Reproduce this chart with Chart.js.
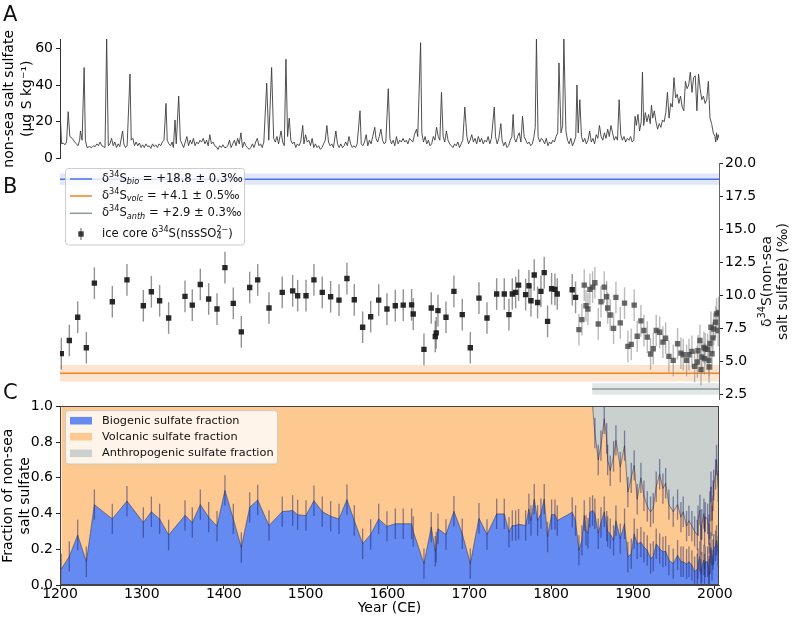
<!DOCTYPE html>
<html><head><meta charset="utf-8">
<script src="https://cdn.jsdelivr.net/npm/chart.js@4.4.1/dist/chart.umd.min.js"></script>
<style>
html,body{margin:0;padding:0;background:#fff;}
#wrap{position:relative;width:794px;height:619px;overflow:hidden;font-family:"DejaVu Sans",sans-serif;}
canvas{position:absolute;left:0;}
.lbl{position:absolute;font-size:21px;color:#111;line-height:1;font-family:"DejaVu Sans",sans-serif;}
</style></head><body>
<div id="wrap">
<canvas id="cA" width="794" height="170" style="top:0px"></canvas>
<canvas id="cB" width="794" height="260" style="top:150px"></canvas>
<canvas id="cC" width="794" height="224" style="top:395px"></canvas>
<div class="lbl" style="left:3px;top:4px">A</div>
<div class="lbl" style="left:3px;top:176px">B</div>
<div class="lbl" style="left:3px;top:382px">C</div>
</div>
<script>
// ---------------- DATA ----------------
const X_MIN = 1200, X_MAX = 2005;
const xTicks = [1200,1300,1400,1500,1600,1700,1800,1900,2000];
const aTicks = [0,20,40,60];
const bTicks = [2.5,5,7.5,10,12.5,15,17.5,20];
const cTicks = [0,0.2,0.4,0.6,0.8,1.0];

// Panel A: non-sea salt sulfate (µg S kg-1)
const aYears = [
1200,1202,1204,1206,1208,1210,1212,1215,1218,1220,
1222,1224,1225,1227,1229.5,1231,1233,1236,1239,1241,
1243,1245,1247,1249,1251,1253,1255,1257,1259,1261,
1263,1265,1267,1269,1271,1273,1276.5,1278,1280,1282,
1285.5,1287,1289,1291,1293,1295,1297,1299,1301,1303,
1305,1307,1309,1311,1313,1315,1317,1319,1321,1323,
1325,1327,1329.5,1331,1333,1335,1337,1338.5,1340.5,1342,
1345,1347,1349,1351,1353,1355,1357,1359,1361,1363,
1365,1367,1369,1371,1373,1375,1377,1379,1381,1383,
1385,1387,1389,1391,1393,1395,1397,1399,1401,1403,
1405,1407,1409,1411,1413,1415,1417,1419,1421,1423,
1425,1427,1429,1431,1433,1435,1437,1439,1441,1443,
1445,1447,1449,1452.5,1455,1458.5,1461,1463,1465,1467,
1470,1472,1474,1476,1478,1480,1482,1484,1486,1488,
1490,1492,1494,1496.5,1498,1500,1502,1504,1506,1508,
1510,1512,1514,1516,1518,1520,1522,1524,1526,1528,
1530,1532,1534,1537,1539,1541,1543,1545,1547,1549,
1551,1553,1555,1557,1559,1561,1563,1566.5,1568,1570,
1572,1574,1576,1578,1580,1582,1584.5,1586,1588,1590,
1592,1594,1596,1598,1601,1603,1605,1607,1609,1611,
1613,1615,1617,1619,1621,1623,1625,1627,1629,1631,
1633,1635.5,1637,1640.5,1642,1644,1646,1648,1650,1652,
1654,1656,1658,1660,1662,1664,1666,1668,1670,1672,
1674,1676,1678,1680,1682,1684,1686,1688,1690,1692,
1694.5,1697,1699,1701,1703,1705,1707,1709,1711,1713,
1715,1717,1719,1721,1723,1725,1727,1730.5,1732,1734,
1736,1738.5,1740,1742,1744,1746,1748,1750,1752,1753.5,
1755,1757,1759,1761,1763,1765,1767,1769,1771,1773,
1775,1777,1779,1780.5,1782,1784,1786,1788,1790,1792,
1794,1796,1798,1800,1802,1804,1806,1808,1809.5,1812,
1814,1815.5,1818,1820,1822,1824,1826,1828,1830,1831.5,
1833,1835,1837,1839,1841,1843,1845,1847,1849,1851,
1853,1855,1857,1859,1861,1863,1865,1867,1869,1871,
1873,1875,1877,1879,1881,1883,1885,1887,1889,1891,
1893,1895,1897,1899,1901,1902.5,1904,1906,1908,1910,
1911.5,1913,1915,1917,1919,1921,1922.5,1924,1926,1928,
1930,1932,1934,1936,1938,1940,1942,1944,1946,1948,
1950,1952,1954,1956,1958,1960,1962,1964,1966,1968,
1970,1972,1974,1976,1978,1980,1982,1984,1986,1988,
1990,1992,1994,1996,1998,2000,2001,2002,2003,2004,
2005];
const aVals = [
26,8,8.5,7.5,9,25.5,12,11,9,8,
7,10,15,10,49.5,10,6,6.5,6,7,
6.5,8,7,9,7,6.5,6,65,7,8,
11,7,9,6,8,6.5,15,8,6,7,
46,10,11,7,9,7,8.5,6,7.5,6,
8,6.5,7,5.5,8,6.5,7.5,6,8,7,
9,10,30,10,8,7,9,6,21,8,
34,10,8,6,9,12,7,10,8,11,
7,9,8,10,9,11,8,10,7,13,
8,9,7,6.5,5,7,6,7.5,6,6,
7,10,6,8,10,7,11,8,14,6,
9,7,6,5,6,8,6,9,11,7,
8,6,9,41,10,49.5,11,9,12,8,
15,9,7,54,12,22,10,8,9,6,
8,7,9,18,8,13,9,10,7,11,
6,8,6,7,5,6,8,10,18,9,
7,8,6,15,8,6,8,6,7,9,
7,12,8,6,7,6,8,26,8,7,
9,13,7,10,8,12,17,11,9,12,
16,10,8,9,38,11,8,10,7,12,
8,10,9,11,9,10,8,11,10,9,
13,16,12,63,14,9,12,8,10,7,
8,12,10,17,12,10,36,12,9,15,
10,8,7,6,8,7,9,6,8,10,
28,12,8,10,13,9,11,8,12,9,
11,8,10,9,12,8,11,28,12,8,
11,19,10,7,9,6,7,10,12,24,
11,9,12,14,9,23,12,10,8,9,
7,8,12,17,65,12,9,11,10,8,
11,7,9,8,10,9,12,14,52,14,
18,65,15,10,8,11,7,9,12,40,
14,32,12,9,11,8,10,15,9,11,
8,13,11,18,12,10,14,11,16,12,
18,14,10,12,10,32,13,10,12,9,
11,10,12,9,10,23,18,24,15,20,
47,18,25,20,24,19,29,22,26,20,
16,19,17,21,20,25,36,22,30,28,
44,33,35,30,34,28,26,42,38,40,
47,36,44,45,26,46,38,32,34,30,
32,42,22,19,14,12,9,14,10,13,
11];

// Panels B and C: ice core samples
const bcYears = [
1201.6,1211.4,1221.6,1232.2,1242.0,1263.9,1281.8,1301.8,1311.6,1321.7,
1332.7,1352.7,1361.6,1371.4,1381.6,1391.8,1401.5,1411.7,1421.5,1431.7,
1441.5,1455.3,1471.5,1484.2,1490.3,1500.5,1510.2,1520.4,1530.6,1540.8,
1550.5,1559.5,1569.7,1579.5,1589.3,1599.4,1609.6,1619.3,1629.5,1631.5,
1644.6,1653.5,1658.4,1659.6,1661.7,1671.5,1681.2,1691.4,1701.2,1711.8,
1721.6,1733.4,1742.7,1748.4,1752.5,1756.6,1760.2,1768.8,1772.8,1775.3,
1779.3,1783.4,1787.5,1791.5,1795.6,1800.5,1804.6,1807.4,1825.7,1829.8,
1833.9,1837.5,1840.4,1842.5,1844.9,1847.3,1850.6,1853.4,1857.5,1860.8,
1864.8,1867.8,1869.0,1872.1,1876.2,1879.1,1884.4,1889.6,1893.7,1897.8,
1901.4,1905.1,1909.6,1913.3,1917.4,1921.4,1924.7,1928.3,1932.5,1936.5,
1939.8,1943.8,1949.1,1954.4,1958.5,1961.3,1965.4,1968.3,1971.9,1975.2,
1978.5,1979.3,1981.7,1983.0,1984.0,1986.6,1987.4,1988.2,1991.1,1992.7,
1992.9,1993.9,1995.2,1996.5,1997.7,1998.5,2000.8,2002.0,2004.0,2004.5];
const deltaB = [
5.58,6.58,8.34,6.03,10.92,9.51,11.17,9.21,10.27,9.59,
8.28,9.92,9.26,10.82,9.72,8.96,12.1,9.39,7.23,10.59,
11.17,9.04,10.22,10.34,9.97,9.97,11.17,10.22,9.89,9.64,
11.27,9.66,7.58,8.38,9.64,8.96,9.21,9.26,9.28,8.58,
5.9,9.04,6.88,7.15,8.84,8.34,10.3,8.54,6.03,9.79,
8.28,10.1,10.1,8.54,10.1,10.22,10.77,10.05,10.72,9.59,
11.54,9.46,10.3,11.72,8.03,10.5,10.45,10.1,10.42,9.84,
7.4,8.16,10.77,9.21,8.96,10.45,10.62,10.95,7.83,9.51,
10.62,9.89,9.04,8.51,7.5,9.84,7.91,9.41,6.13,6.28,
9.26,6.9,8.06,7.33,6.83,5.55,5.95,7.33,7.2,6.45,
6.75,5.37,5.07,6.33,5.62,5.5,5.07,5.5,5.75,4.62,
4.95,5.8,6.58,4.37,5.33,6.05,5.2,5.95,5.9,5.07,
4.57,6.35,7.58,5.57,6.78,7.45,7.96,8.58,7.33,8.7];
const errB = 1.2;
const bioFrac = [
0.09,0.16,0.28,0.13,0.45,0.37,0.47,0.35,0.41,0.37,
0.28,0.39,0.35,0.45,0.38,0.33,0.53,0.37,0.21,0.435,
0.476,0.333,0.411,0.417,0.393,0.389,0.472,0.411,0.385,0.37,
0.478,0.361,0.231,0.283,0.37,0.328,0.343,0.343,0.343,0.30,
0.12,0.324,0.19,0.213,0.315,0.283,0.413,0.287,0.12,0.374,
0.283,0.398,0.398,0.296,0.333,0.333,0.34,0.333,0.426,0.361,
0.481,0.361,0.40,0.481,0.269,0.394,0.394,0.361,0.407,0.361,
0.194,0.25,0.389,0.306,0.29,0.407,0.417,0.40,0.287,0.35,
0.41,0.33,0.30,0.287,0.25,0.36,0.26,0.343,0.157,0.176,
0.287,0.23,0.24,0.213,0.194,0.148,0.16,0.231,0.204,0.185,
0.19,0.139,0.12,0.167,0.13,0.13,0.117,0.13,0.11,0.074,
0.09,0.12,0.16,0.06,0.10,0.14,0.09,0.13,0.13,0.08,
0.06,0.15,0.21,0.11,0.17,0.20,0.22,0.25,0.19,0.26];
// biogenic + volcanic (top of the orange area)
const bioVolcFrac = [
1,1,1,1,1,1,1,1,1,1,
1,1,1,1,1,1,1,1,1,1,
1,1,1,1,1,1,1,1,1,1,
1,1,1,1,1,1,1,1,1,1,
1,1,1,1,1,1,1,1,1,1,
1,1,1,1,1,1,1,1,1,1,
1,1,1,1,1,1,1,1,1,1,
1,1,1,1,1,1,1,0.85,0.70,0.78,
0.93,0.82,0.70,0.64,0.72,0.81,0.66,0.78,0.52,0.60,
0.67,0.48,0.60,0.50,0.44,0.41,0.43,0.55,0.62,0.54,
0.57,0.45,0.41,0.45,0.38,0.41,0.33,0.36,0.33,0.30,
0.28,0.36,0.42,0.25,0.34,0.40,0.30,0.38,0.37,0.31,
0.26,0.44,0.55,0.36,0.50,0.56,0.62,0.70,0.55,0.66];
const errC = 0.085;

// end-member sources (panel B)
const srcNames = ['bio','volc','anth'];
const srcMean = [18.8, 4.1, 2.9];
const srcErr = [0.3, 0.5, 0.3];
const srcBand = [0.42, 0.63, 0.44];
const srcStart = [1200, 1200, 1850];

const cLabels = ['Biogenic sulfate fraction','Volcanic sulfate fraction','Anthropogenic sulfate fraction'];

// ---------------- STYLE ----------------
const FAM = "'DejaVu Sans', sans-serif";
Chart.defaults.font.family = FAM;
Chart.defaults.color = '#000';
const F14 = {family: FAM, size: 14};
const srcLine = ['#4a72e8','#f5831f','#8c9b9b'];
const srcFill = ['rgba(74,114,232,0.17)','rgba(245,131,31,0.22)','rgba(140,155,155,0.25)'];
const cFill = ['#658af2','#fdc991','#c9d0ce'];

function drawRuns(ctx, x, y, runs, size, measureOnly) {
  let cx = x;
  for (const [t, k] of runs) {
    let s = size, dy = 0, it = '';
    if (k === 'sup') { s = size * 0.7; dy = -size * 0.38; }
    if (k === 'sub' || k === 'sub0') { s = size * 0.7; dy = size * 0.28; }
    if (k === 'isub') { s = size * 0.7; dy = size * 0.28; it = 'italic '; }
    ctx.font = it + s + 'px ' + FAM;
    if (!measureOnly) ctx.fillText(t, cx, y + dy);
    if (k !== 'sub0') cx += ctx.measureText(t).width;
  }
  return cx - x;
}
function legendBox(ctx, x, y, w, h) {
  ctx.save();
  ctx.beginPath();
  const r = 3;
  ctx.moveTo(x + r, y); ctx.lineTo(x + w - r, y); ctx.quadraticCurveTo(x + w, y, x + w, y + r);
  ctx.lineTo(x + w, y + h - r); ctx.quadraticCurveTo(x + w, y + h, x + w - r, y + h);
  ctx.lineTo(x + r, y + h); ctx.quadraticCurveTo(x, y + h, x, y + h - r);
  ctx.lineTo(x, y + r); ctx.quadraticCurveTo(x, y, x + r, y); ctx.closePath();
  ctx.fillStyle = 'rgba(255,255,255,0.8)'; ctx.fill();
  ctx.strokeStyle = 'rgba(200,200,200,0.9)'; ctx.lineWidth = 1; ctx.stroke();
  ctx.restore();
}
const tickGrid = {display: true, drawOnChartArea: false, drawTicks: true, tickLength: 4, tickColor: '#222', color: '#222'};
const noTip = {legend: {display: false}, tooltip: {enabled: false}};

// ---------------- PANEL A ----------------
new Chart(document.getElementById('cA'), {
  type: 'line',
  data: {datasets: [{
    data: aYears.map((x, i) => ({x, y: aVals[i]})),
    borderColor: '#3d3d3d', borderWidth: 0.9, pointRadius: 0, tension: 0
  }]},
  options: {
    responsive: false, animation: false, devicePixelRatio: 1,
    layout: {padding: {top: 39, bottom: 10, left: 0, right: 75}},
    plugins: noTip,
    scales: {
      x: {type: 'linear', min: X_MIN, max: X_MAX, display: false},
      y: {
        min: 0, max: 65,
        afterFit: s => { s.width = 60; },
        afterBuildTicks: s => { s.ticks = aTicks.map(v => ({value: v})); },
        ticks: {font: F14, color: '#000', padding: 3, callback: v => String(v)},
        grid: tickGrid,
        border: {display: true, color: '#333', width: 1},
        title: {display: true, text: ['non-sea salt sulfate', '(µg S kg⁻¹)'],
                font: {family: FAM, size: 14, lineHeight: 1.3}, color: '#000', padding: {top: 0, bottom: 0}}
      }
    }
  }
});

// ---------------- PANEL B ----------------
const bDatasets = [{
  type: 'line', showLine: false, order: 0,
  data: bcYears.map((x, i) => ({x, y: deltaB[i]})),
  pointStyle: 'rect', pointRadius: 3.8, borderWidth: 0,
  backgroundColor: ctx => (bcYears[ctx.dataIndex] < 1830 ? 'rgba(25,25,25,0.92)' : 'rgba(65,65,65,0.78)')
}];
srcMean.forEach((m, k) => {
  bDatasets.push({data: [{x: srcStart[k], y: m - srcBand[k]}, {x: X_MAX, y: m - srcBand[k]}],
    borderWidth: 0, pointRadius: 0, fill: false, order: 3});
  bDatasets.push({data: [{x: srcStart[k], y: m + srcBand[k]}, {x: X_MAX, y: m + srcBand[k]}],
    borderWidth: 0, pointRadius: 0, fill: '-1', backgroundColor: srcFill[k], order: 3});
  bDatasets.push({data: [{x: srcStart[k], y: m}, {x: X_MAX, y: m}],
    borderColor: srcLine[k], borderWidth: 1.5, pointRadius: 0, fill: false, order: 2});
});
const bPlugin = {
  id: 'bExtras',
  beforeDatasetDraw(chart, args) {
    if (args.index !== 0) return;
    const {ctx, scales: {x, y}} = chart;
    ctx.save();
    ctx.lineWidth = 1.4;
    bcYears.forEach((yr, i) => {
      const px = x.getPixelForValue(yr);
      ctx.strokeStyle = yr < 1830 ? 'rgba(110,110,110,0.75)' : 'rgba(140,140,140,0.6)';
      ctx.beginPath();
      ctx.moveTo(px, y.getPixelForValue(deltaB[i] - errB));
      ctx.lineTo(px, y.getPixelForValue(deltaB[i] + errB));
      ctx.stroke();
    });
    ctx.restore();
  },
  afterDraw(chart) {
    const ctx = chart.ctx;
    // legend
    legendBox(ctx, 65.5, 18.5, 179, 76.5);
    ctx.save();
    ctx.textBaseline = 'middle';
    ctx.fillStyle = '#111';
    const rowsY = [29, 46, 63.3, 84];
    const fs = 11.6;
    srcMean.forEach((m, k) => {
      ctx.strokeStyle = srcLine[k]; ctx.lineWidth = 1.5;
      ctx.beginPath(); ctx.moveTo(70, rowsY[k]); ctx.lineTo(92, rowsY[k]); ctx.stroke();
      drawRuns(ctx, 102, rowsY[k], [['δ', 'n'], ['34', 'sup'], ['S', 'n'], [srcNames[k], 'isub'],
        [' = +' + m.toFixed(1) + ' ± ' + srcErr[k].toFixed(1) + '‰', 'n']], fs);
    });
    ctx.strokeStyle = 'rgba(110,110,110,0.8)'; ctx.lineWidth = 1.4;
    ctx.beginPath(); ctx.moveTo(81, rowsY[3] - 6); ctx.lineTo(81, rowsY[3] + 6); ctx.stroke();
    ctx.fillStyle = 'rgba(40,40,40,0.9)';
    ctx.fillRect(78.3, rowsY[3] - 2.7, 5.4, 5.4);
    ctx.fillStyle = '#111';
    drawRuns(ctx, 102, rowsY[3], [['ice core δ', 'n'], ['34', 'sup'], ['S(nssSO', 'n'], ['4', 'sub0'], ['2−', 'sup'], [')', 'n']], fs);
    // right axis title, rotated to read bottom-to-top
    const lines = [[['δ', 'n'], ['34', 'sup'], ['S(non-sea', 'n']], [['salt sulfate) (‰)', 'n']]];
    const xs = [767.5, 783.5];
    lines.forEach((runs, j) => {
      ctx.save();
      ctx.translate(xs[j], 131.5);
      ctx.rotate(-Math.PI / 2);
      const w = drawRuns(ctx, 0, 0, runs, 14, true);
      drawRuns(ctx, -w / 2, 0, runs, 14);
      ctx.restore();
    });
    ctx.restore();
  }
};
new Chart(document.getElementById('cB'), {
  type: 'line',
  data: {datasets: bDatasets},
  plugins: [bPlugin],
  options: {
    responsive: false, animation: false, devicePixelRatio: 1,
    layout: {padding: {top: 13.3, bottom: 9, left: 60, right: 0}},
    plugins: noTip,
    scales: {
      x: {type: 'linear', min: X_MIN, max: X_MAX, display: false},
      y: {
        position: 'right', min: 2.1, max: 20.0,
        afterFit: s => { s.width = 75; },
        afterBuildTicks: s => { s.ticks = bTicks.map(v => ({value: v})); },
        ticks: {font: F14, color: '#000', padding: 2, callback: v => v.toFixed(1)},
        grid: tickGrid,
        border: {display: true, color: '#666', width: 1}
      }
    }
  }
});

// ---------------- PANEL C ----------------
const cPlugin = {
  id: 'cExtras',
  afterDatasetsDraw(chart) {
    const {ctx, chartArea: a, scales: {x, y}} = chart;
    ctx.save();
    ctx.beginPath(); ctx.rect(a.left, a.top, a.right - a.left, a.bottom - a.top); ctx.clip();
    ctx.lineWidth = 1.3;
    ctx.strokeStyle = 'rgba(30,35,110,0.5)';
    bcYears.forEach((yr, i) => {
      const px = x.getPixelForValue(yr);
      ctx.beginPath();
      ctx.moveTo(px, y.getPixelForValue(bioFrac[i] - errC));
      ctx.lineTo(px, y.getPixelForValue(bioFrac[i] + errC));
      if (bioVolcFrac[i] < 1) {
        ctx.moveTo(px, y.getPixelForValue(bioVolcFrac[i] - errC));
        ctx.lineTo(px, y.getPixelForValue(bioVolcFrac[i] + errC));
      }
      ctx.stroke();
    });
    ctx.restore();
    ctx.save();
    ctx.strokeStyle = '#444'; ctx.lineWidth = 1;
    ctx.strokeRect(Math.round(a.left) + 0.5, Math.round(a.top) + 0.5, Math.round(a.right - a.left) - 1, Math.round(a.bottom - a.top) - 1);
    ctx.restore();
  },
  afterDraw(chart) {
    const ctx = chart.ctx;
    legendBox(ctx, 65.5, 15.7, 212, 53.3);
    ctx.save();
    ctx.textBaseline = 'middle';
    const rowsY = [25.7, 41.7, 58.3];
    cLabels.forEach((t, k) => {
      ctx.fillStyle = cFill[k];
      ctx.fillRect(70, rowsY[k] - 3.8, 22, 7.6);
      ctx.fillStyle = '#111';
      ctx.font = '11.3px ' + FAM;
      ctx.fillText(t, 102, rowsY[k]);
    });
    ctx.restore();
  }
};
const edge = 'rgba(55,55,70,0.75)';
new Chart(document.getElementById('cC'), {
  type: 'line',
  data: {datasets: [
    {data: bcYears.map((x, i) => ({x, y: bioFrac[i]})), fill: 'origin', backgroundColor: cFill[0],
     borderColor: edge, borderWidth: 0.8, pointRadius: 0, tension: 0},
    {data: bcYears.map((x, i) => ({x, y: bioVolcFrac[i]})), fill: '-1', backgroundColor: cFill[1],
     borderColor: edge, borderWidth: 0.8, pointRadius: 0, tension: 0},
    {data: bcYears.map(x => ({x, y: 1})), fill: '-1', backgroundColor: cFill[2],
     borderWidth: 0, pointRadius: 0, tension: 0}
  ]},
  plugins: [cPlugin],
  options: {
    responsive: false, animation: false, devicePixelRatio: 1,
    layout: {padding: {top: 10, bottom: 0, left: 0, right: 75}},
    plugins: noTip,
    scales: {
      x: {
        type: 'linear', min: X_MIN, max: X_MAX,
        afterFit: s => { s.height = 34; },
        afterBuildTicks: s => { s.ticks = xTicks.map(v => ({value: v})); },
        ticks: {font: F14, color: '#000', padding: -3, maxRotation: 0, callback: v => String(v)},
        grid: tickGrid,
        border: {display: true, color: '#444', width: 1},
        title: {display: true, text: 'Year (CE)', font: F14, color: '#000', padding: {top: 0, bottom: 2}}
      },
      y: {
        min: 0, max: 1,
        afterFit: s => { s.width = 60; },
        afterBuildTicks: s => { s.ticks = cTicks.map(v => ({value: v})); },
        ticks: {font: F14, color: '#000', padding: 3, callback: v => v.toFixed(1)},
        grid: tickGrid,
        border: {display: true, color: '#444', width: 1},
        title: {display: true, text: ['Fraction of non-sea', 'salt sulfate'],
                font: {family: FAM, size: 14, lineHeight: 1.2}, color: '#000', padding: {top: 0, bottom: 0}}
      }
    }
  }
});
</script>
</body></html>
